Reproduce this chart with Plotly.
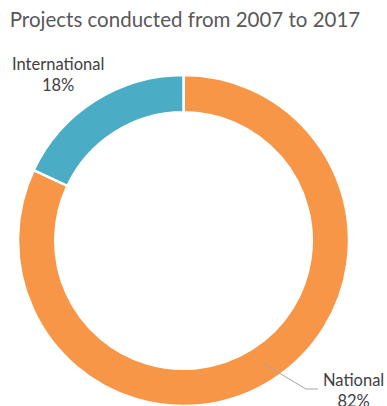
import plotly.graph_objects as go

# Project counts by scope (share of total, %)
categories = ["National", "International"]
shares = [82, 18]
colors = ["#F79646", "#4BACC6"]

W, H = 387, 406

fig = go.Figure(
    go.Pie(
        labels=categories,
        values=shares,
        hole=0.775,
        sort=False,
        direction="clockwise",
        rotation=0,
        marker=dict(colors=colors, line=dict(color="white", width=2.5)),
        textinfo="none",
        hoverinfo="label+percent",
        domain=dict(x=[17.5 / W, 349.5 / W], y=[0, 331 / H]),
        showlegend=False,
    )
)

label_font = dict(family="Lato, 'Open Sans', sans-serif", size=16.5, color="#404040")

# Category labels with their percentage share
fig.add_annotation(
    x=58 / W, y=1 - 74 / H, xref="paper", yref="paper",
    text=f"{categories[1]}<br>{shares[1]}%", showarrow=False,
    font=label_font, align="center", xanchor="center", yanchor="middle",
)
fig.add_annotation(
    x=353 / W, y=1 - 390 / H, xref="paper", yref="paper",
    text=f"{categories[0]}<br>{shares[0]}%", showarrow=False,
    font=label_font, align="center", xanchor="center", yanchor="middle",
)

# Leader line from the National slice to its label
fig.add_shape(
    type="path", xref="paper", yref="paper",
    path=(f"M {264 / W} {1 - 364 / H} L {306 / W} {1 - 389 / H} "
          f"L {318 / W} {1 - 389 / H}"),
    line=dict(color="#A6A6A6", width=1),
)

fig.update_layout(
    width=W, height=H,
    margin=dict(l=0, r=0, t=0, b=0),
    paper_bgcolor="white",
    plot_bgcolor="white",
    title=dict(
        text="Projects conducted from 2007 to 2017",
        x=0.478, xanchor="center", y=1 - 20 / H, yanchor="middle",
        font=dict(family="Lato, 'Open Sans', sans-serif", size=20.5, color="#595959"),
    ),
)

fig.write_html("out.html")
